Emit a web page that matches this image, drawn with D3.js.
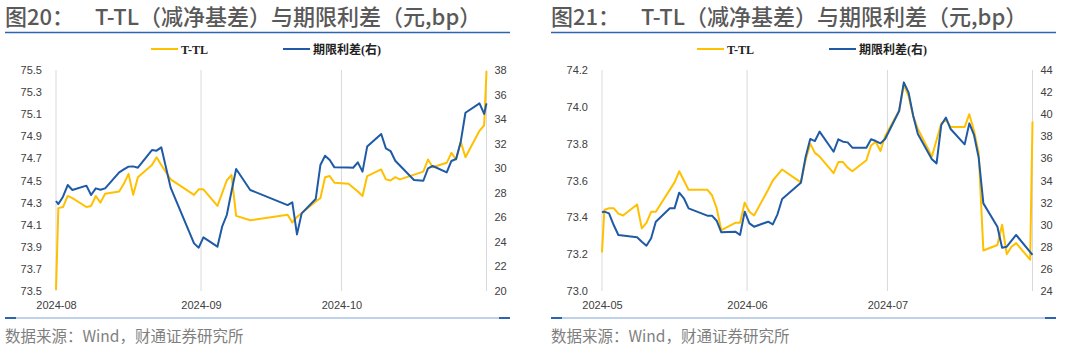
<!DOCTYPE html>
<html><head><meta charset="utf-8">
<script src="https://cdn.jsdelivr.net/npm/d3@7"></script>
<style>
html,body{margin:0;padding:0;background:#fff;}
svg{display:block;}
</style></head>
<body>
<svg id="chart" width="1080" height="350"></svg>
<script>
// ---------------- DATA ----------------
const seriesNames = ["T-TL", "期限利差(右)"];
const titles = ["T-TL（减净基差）与期限利差（元,bp）", "T-TL（减净基差）与期限利差（元,bp）"];
const figLabels = ["图20：", "图21："];
const sourceText = "数据来源：Wind，财通证券研究所";

// Panel 1 (Aug–Oct 2024)
const p1LeftTicks = [73.5, 73.7, 73.9, 74.1, 74.3, 74.5, 74.7, 74.9, 75.1, 75.3, 75.5];
const p1RightTicks = [20, 22, 24, 26, 28, 30, 32, 34, 36, 38];
const p1DateRange = ["2024-08-01 00", "2024-11-01 00"];
const p1TtlDates = ["2024-08-01 00","2024-08-01 12","2024-08-02 12","2024-08-03 12","2024-08-04 12","2024-08-07 12","2024-08-08 12","2024-08-09 12","2024-08-10 12","2024-08-11 12","2024-08-14 12","2024-08-15 12","2024-08-16 12","2024-08-17 12","2024-08-18 12","2024-08-21 12","2024-08-22 12","2024-08-23 12","2024-08-25 12","2024-08-30 12","2024-08-31 12","2024-09-01 12","2024-09-04 12","2024-09-06 12","2024-09-07 12","2024-09-08 12","2024-09-11 12","2024-09-19 12","2024-09-20 12","2024-09-21 12","2024-09-25 12","2024-09-26 12","2024-09-27 12","2024-09-28 12","2024-09-29 12","2024-10-02 12","2024-10-04 12","2024-10-05 12","2024-10-06 12","2024-10-09 12","2024-10-10 12","2024-10-11 12","2024-10-12 12","2024-10-13 12","2024-10-18 12","2024-10-19 12","2024-10-20 12","2024-10-23 12","2024-10-24 12","2024-10-25 12","2024-10-26 12","2024-10-27 12","2024-10-30 12","2024-10-31 12","2024-11-01 00"];
const p1TtlValues = [73.51,74.25,74.26,74.36,74.34,74.26,74.27,74.36,74.30,74.38,74.40,74.47,74.56,74.37,74.53,74.64,74.71,74.64,74.51,74.37,74.42,74.42,74.27,74.50,74.55,74.18,74.14,74.19,74.12,74.17,74.31,74.34,74.53,74.54,74.48,74.47,74.40,74.36,74.54,74.60,74.51,74.50,74.53,74.51,74.58,74.69,74.62,74.66,74.75,74.69,74.85,74.71,74.95,75.00,75.49];
const p1SpreadDates = ["2024-08-01 00","2024-08-01 12","2024-08-02 12","2024-08-03 12","2024-08-04 12","2024-08-07 12","2024-08-08 12","2024-08-09 12","2024-08-10 12","2024-08-11 12","2024-08-14 12","2024-08-15 12","2024-08-16 12","2024-08-17 12","2024-08-18 12","2024-08-21 12","2024-08-22 12","2024-08-23 12","2024-08-25 12","2024-08-30 12","2024-08-31 12","2024-09-01 12","2024-09-04 12","2024-09-05 12","2024-09-06 12","2024-09-07 12","2024-09-08 12","2024-09-11 12","2024-09-19 12","2024-09-20 12","2024-09-21 12","2024-09-22 12","2024-09-25 12","2024-09-26 12","2024-09-27 12","2024-09-28 12","2024-09-29 12","2024-10-02 12","2024-10-03 12","2024-10-04 12","2024-10-05 12","2024-10-06 12","2024-10-09 12","2024-10-10 12","2024-10-11 12","2024-10-12 12","2024-10-16 12","2024-10-18 12","2024-10-19 12","2024-10-20 12","2024-10-23 12","2024-10-24 12","2024-10-25 12","2024-10-26 12","2024-10-27 12","2024-10-30 12","2024-10-31 12","2024-11-01 00"];
const p1SpreadValues = [27.33,27.08,27.68,28.63,28.23,28.58,27.82,28.36,28.25,28.36,29.66,29.90,30.13,30.15,30.04,31.48,31.43,31.70,28.42,23.88,23.53,24.37,23.61,25.24,26.19,28.10,29.94,28.23,27.00,27.22,24.61,26.32,27.49,30.26,31.02,30.67,30.07,30.05,30.04,30.48,29.72,31.76,32.79,31.62,31.40,30.61,29.04,28.98,29.99,30.18,29.66,30.59,30.75,32.16,34.52,35.28,34.42,35.28];

// Panel 2 (May–Jul 2024)
const p2LeftTicks = [73.0, 73.2, 73.4, 73.6, 73.8, 74.0, 74.2];
const p2RightTicks = [24, 26, 28, 30, 32, 34, 36, 38, 40, 42, 44];
const p2DateRange = ["2024-05-01 00", "2024-08-01 00"];
const p2TtlDates = ["2024-05-01 00","2024-05-01 12","2024-05-02 12","2024-05-03 12","2024-05-04 12","2024-05-05 12","2024-05-08 12","2024-05-09 12","2024-05-10 12","2024-05-11 12","2024-05-12 12","2024-05-16 12","2024-05-17 12","2024-05-18 12","2024-05-19 12","2024-05-23 12","2024-05-24 12","2024-05-25 12","2024-05-26 12","2024-05-29 12","2024-05-30 12","2024-05-31 12","2024-06-01 12","2024-06-02 12","2024-06-05 12","2024-06-06 12","2024-06-07 12","2024-06-08 12","2024-06-12 12","2024-06-13 12","2024-06-14 12","2024-06-15 12","2024-06-16 12","2024-06-19 12","2024-06-20 12","2024-06-21 12","2024-06-22 12","2024-06-23 12","2024-06-26 12","2024-06-27 12","2024-06-28 12","2024-06-29 12","2024-06-30 12","2024-07-03 12","2024-07-04 12","2024-07-05 12","2024-07-06 12","2024-07-07 12","2024-07-10 12","2024-07-12 12","2024-07-13 12","2024-07-14 12","2024-07-17 12","2024-07-18 12","2024-07-19 12","2024-07-20 12","2024-07-21 12","2024-07-24 12","2024-07-25 12","2024-07-26 12","2024-07-27 12","2024-07-28 12","2024-07-31 12","2024-08-01 00"];
const p2TtlValues = [73.21,73.44,73.45,73.45,73.42,73.41,73.47,73.34,73.37,73.43,73.43,73.59,73.65,73.60,73.55,73.55,73.52,73.45,73.33,73.37,73.37,73.48,73.43,73.41,73.55,73.60,73.63,73.66,73.59,73.71,73.80,73.75,73.73,73.64,73.70,73.70,73.67,73.65,73.71,73.79,73.81,73.76,73.84,73.98,74.12,74.06,73.95,73.88,73.73,73.91,73.93,73.89,73.89,73.96,73.87,73.75,73.22,73.25,73.36,73.20,73.24,73.26,73.17,73.92];
const p2SpreadDates = ["2024-05-01 00","2024-05-01 12","2024-05-02 12","2024-05-03 12","2024-05-04 12","2024-05-08 12","2024-05-09 12","2024-05-10 12","2024-05-11 12","2024-05-12 12","2024-05-15 12","2024-05-16 12","2024-05-17 12","2024-05-18 12","2024-05-19 12","2024-05-23 12","2024-05-24 12","2024-05-25 12","2024-05-26 12","2024-05-29 12","2024-05-30 12","2024-05-31 12","2024-06-01 12","2024-06-02 12","2024-06-05 12","2024-06-06 12","2024-06-07 12","2024-06-08 12","2024-06-12 12","2024-06-13 12","2024-06-14 12","2024-06-15 12","2024-06-16 12","2024-06-19 12","2024-06-20 12","2024-06-21 12","2024-06-22 12","2024-06-23 12","2024-06-26 12","2024-06-27 12","2024-06-28 12","2024-06-29 12","2024-06-30 12","2024-07-03 12","2024-07-04 12","2024-07-05 12","2024-07-06 12","2024-07-07 12","2024-07-10 12","2024-07-11 12","2024-07-12 12","2024-07-13 12","2024-07-14 12","2024-07-17 12","2024-07-18 12","2024-07-19 12","2024-07-20 12","2024-07-21 12","2024-07-24 12","2024-07-25 12","2024-07-26 12","2024-07-28 12","2024-08-01 00"];
const p2SpreadValues = [31.12,31.18,31.03,29.97,29.07,28.86,28.46,28.10,28.77,30.27,31.48,31.48,32.90,32.39,31.48,30.82,30.82,30.36,29.31,29.37,29.07,31.18,30.12,29.82,30.27,30.03,30.94,32.33,33.80,36.10,37.76,37.57,38.42,36.60,37.73,37.51,37.45,36.97,36.97,37.73,37.57,37.36,37.76,40.29,42.88,41.98,39.87,38.21,35.92,35.55,39.02,39.69,38.66,37.27,39.17,38.12,36.07,31.93,29.82,27.92,28.01,29.07,27.26];

// ---------------- DRAW ----------------
const parse = d3.timeParse("%Y-%m-%d %H");
const svg = d3.select("#chart");
const YELLOW = "#FFC000", BLUE = "#1F5AA6";
const GRID = "#d9d9d9", TEXT = "#404040";

function zip(dates, vals) { return dates.map((d, i) => ({ date: parse(d), value: vals[i] })); }

function drawPanel(cfg) {
  const g = svg.append("g").attr("transform", `translate(${cfg.ox},0)`);
  const L = 56, R = 486.5, T = 70, B = 291;

  // Title
  g.append("text").attr("x", 5).attr("y", 25)
    .attr("font-family", "Noto Sans CJK SC").attr("font-size", 22).attr("font-weight", 500).attr("fill", "#595959")
    .text(cfg.fig);
  g.append("text").attr("x", 95).attr("y", 25)
    .attr("font-family", "Noto Sans CJK SC").attr("font-size", 22).attr("font-weight", 500).attr("fill", "#595959")
    .text(cfg.title);
  g.append("line").attr("x1", 5).attr("x2", 510).attr("y1", 32.5).attr("y2", 32.5)
    .attr("stroke", "#2E63B0").attr("stroke-width", 1.5);

  // Legend
  const lg = g.append("g").attr("font-family", "Liberation Serif, Noto Sans CJK SC")
    .attr("font-size", 12).attr("font-weight", "bold").attr("fill", "#222");
  lg.append("line").attr("x1", 151).attr("x2", 178).attr("y1", 49).attr("y2", 49).attr("stroke", YELLOW).attr("stroke-width", 2);
  lg.append("text").attr("x", 181).attr("y", 53.5).text(seriesNames[0]);
  lg.append("line").attr("x1", 283).attr("x2", 310).attr("y1", 49).attr("y2", 49).attr("stroke", BLUE).attr("stroke-width", 2);
  lg.append("text").attr("x", 313).attr("y", 53.5).text(seriesNames[1]);

  const x = d3.scaleTime().domain(cfg.range.map(parse)).range([L, R]);
  const yL = d3.scaleLinear().domain([cfg.leftTicks[0], cfg.leftTicks[cfg.leftTicks.length - 1]]).range([B, T]);
  const yR = d3.scaleLinear().domain([cfg.rightTicks[0], cfg.rightTicks[cfg.rightTicks.length - 1]]).range([B, T]);

  // vertical grid lines at month starts + right edge
  const months = d3.timeMonth.range(x.domain()[0], x.domain()[1]);
  g.append("g").selectAll("line").data(months.concat([x.domain()[1]])).join("line")
    .attr("x1", d => x(d)).attr("x2", d => x(d)).attr("y1", T).attr("y2", B)
    .attr("stroke", GRID).attr("stroke-width", 1);

  // axes
  const axL = g.append("g").attr("transform", `translate(${L - 14},0)`)
    .call(d3.axisLeft(yL).tickValues(cfg.leftTicks).tickFormat(d3.format(".1f")).tickSize(0).tickPadding(0));
  const axR = g.append("g").attr("transform", `translate(${R + 8},0)`)
    .call(d3.axisRight(yR).tickValues(cfg.rightTicks).tickFormat(d3.format("d")).tickSize(0).tickPadding(0));
  const axB = g.append("g").attr("transform", `translate(0,${B + 4})`)
    .call(d3.axisBottom(x).tickValues(months).tickFormat(d3.timeFormat("%Y-%m")).tickSize(0).tickPadding(6));
  [axL, axR, axB].forEach(a => {
    a.select(".domain").remove();
    a.selectAll("text").attr("font-family", "Liberation Sans, Arial").attr("font-size", 11).attr("fill", TEXT);
  });

  // lines
  const lineL = d3.line().x(d => x(d.date)).y(d => yL(d.value));
  const lineR = d3.line().x(d => x(d.date)).y(d => yR(d.value));
  g.append("path").datum(zip(cfg.ttlDates, cfg.ttlValues)).attr("d", lineL)
    .attr("fill", "none").attr("stroke", YELLOW).attr("stroke-width", 2).attr("stroke-linejoin", "round");
  g.append("path").datum(zip(cfg.spDates, cfg.spValues)).attr("d", lineR)
    .attr("fill", "none").attr("stroke", BLUE).attr("stroke-width", 2).attr("stroke-linejoin", "round");

  // bottom rule
  g.append("line").attr("x1", 5).attr("x2", 510).attr("y1", 318).attr("y2", 318)
    .attr("stroke", "#7FA3D6").attr("stroke-width", 1);
  g.append("line").attr("x1", 5).attr("x2", 16).attr("y1", 318).attr("y2", 318)
    .attr("stroke", "#2E63B0").attr("stroke-width", 2);
  g.append("line").attr("x1", 499).attr("x2", 510).attr("y1", 318).attr("y2", 318)
    .attr("stroke", "#2E63B0").attr("stroke-width", 2);

  g.append("text").attr("x", 5).attr("y", 342)
    .attr("font-family", "Noto Sans CJK SC").attr("font-size", 15.5).attr("fill", "#7f7f7f")
    .text(sourceText);
}

drawPanel({ ox: 0, fig: figLabels[0], title: titles[0], range: p1DateRange,
  leftTicks: p1LeftTicks, rightTicks: p1RightTicks,
  ttlDates: p1TtlDates, ttlValues: p1TtlValues, spDates: p1SpreadDates, spValues: p1SpreadValues });
drawPanel({ ox: 546, fig: figLabels[1], title: titles[1], range: p2DateRange,
  leftTicks: p2LeftTicks, rightTicks: p2RightTicks,
  ttlDates: p2TtlDates, ttlValues: p2TtlValues, spDates: p2SpreadDates, spValues: p2SpreadValues });
</script>
</body></html>
